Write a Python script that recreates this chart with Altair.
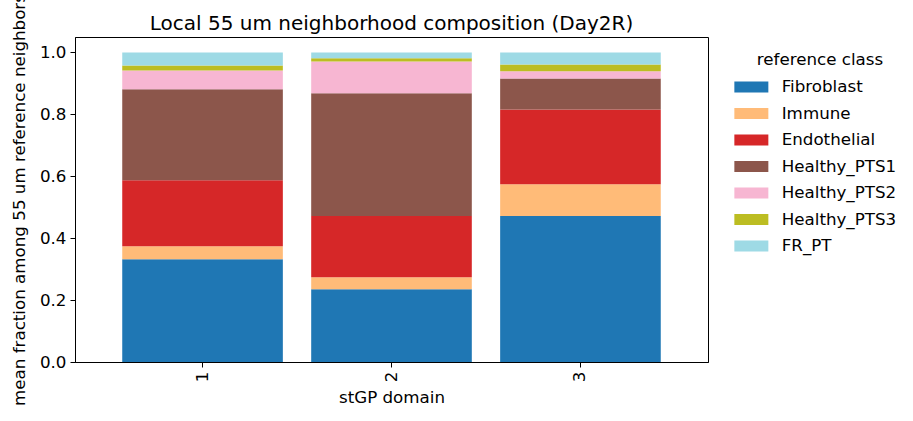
import altair as alt
import pandas as pd

domains = ["1", "2", "3"]
classes = ["Fibroblast", "Immune", "Endothelial", "Healthy_PTS1", "Healthy_PTS2", "Healthy_PTS3", "FR_PT"]
colors = ["#1f77b4", "#ffbb78", "#d62728", "#8c564b", "#f7b6d2", "#bcbd22", "#9edae5"]

fibroblast = [0.332, 0.235, 0.472]
immune = [0.042, 0.039, 0.102]
endothelial = [0.213, 0.198, 0.242]
healthy_pts1 = [0.294, 0.396, 0.100]
healthy_pts2 = [0.061, 0.103, 0.023]
healthy_pts3 = [0.016, 0.010, 0.022]
fr_pt = [0.042, 0.019, 0.039]

series = [fibroblast, immune, endothelial, healthy_pts1, healthy_pts2, healthy_pts3, fr_pt]
rows = []
for ci, (cls, vals) in enumerate(zip(classes, series)):
    for d, v in zip(domains, vals):
        rows.append({"domain": d, "cls": cls, "value": v, "order": ci})
df = pd.DataFrame(rows)

FONT = "DejaVu Sans"
FS = 16.7

chart = alt.Chart(df).mark_bar(stroke=None).encode(
    x=alt.X("domain:N", sort=domains,
            scale=alt.Scale(paddingInner=0.15, paddingOuter=0.25),
            axis=alt.Axis(title="stGP domain", labelAngle=270, titlePadding=8, labelPadding=4)),
    y=alt.Y("value:Q", stack="zero",
            scale=alt.Scale(domain=[0, 1.05], nice=False, zero=True),
            axis=alt.Axis(title="mean fraction among 55 um reference neighbors",
                          values=[0, 0.2, 0.4, 0.6, 0.8, 1.0], format=".1f",
                          titlePadding=11, labelPadding=4)),
    color=alt.Color("cls:N", sort=classes,
                    scale=alt.Scale(domain=classes, range=colors),
                    legend=alt.Legend(title="reference class", orient="none",
                                      legendX=668, legendY=15,
                                      symbolType="M-3.09,-1H3.09V1H-3.09Z",
                                      symbolSize=121, symbolStrokeWidth=0,
                                      labelOffset=22, rowPadding=8.5,
                                      titleAnchor="middle", titlePadding=10,
                                      padding=0)),
    order=alt.Order("order:Q", sort="ascending"),
).properties(
    width=633, height=325,
    title=alt.Title("Local 55 um neighborhood composition (Day2R)", fontSize=20,
                    font=FONT, fontWeight="normal", color="black", offset=9,
                    dy=49),
    autosize=alt.AutoSizeParams(type="none"),
    padding={"left": 75, "top": 37, "right": 205, "bottom": 59},
).configure_view(
    stroke="black", strokeWidth=1
).configure_axis(
    labelFont=FONT, titleFont=FONT, labelFontSize=FS, titleFontSize=FS,
    labelColor="black", titleColor="black", titleFontWeight="normal",
    domainColor="black", tickColor="black", tickSize=5, grid=False,
    domainWidth=1, tickWidth=1,
).configure_legend(
    labelFont=FONT, titleFont=FONT, labelFontSize=FS, titleFontSize=FS,
    labelColor="black", titleColor="black", titleFontWeight="normal",
)

chart.save("out.html", embed_options={"renderer": "svg", "actions": False})
